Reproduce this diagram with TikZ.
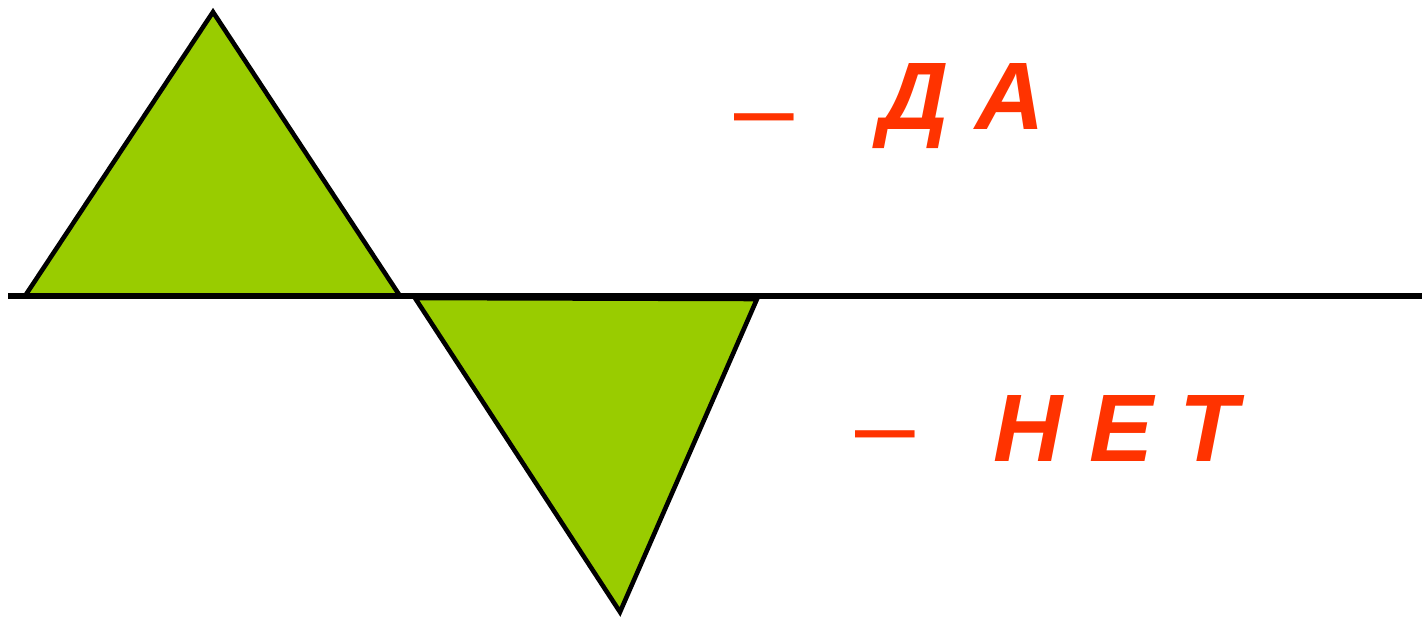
\documentclass[tikz,border=0pt]{standalone}
\usepackage{fontspec}
\setmainfont{Liberation Sans}
\usetikzlibrary{positioning}
\definecolor{leafgreen}{RGB}{153, 204, 0}
\definecolor{redorange}{RGB}{255, 51, 0}

\begin{document}
\begin{tikzpicture}[x=0.02cm, y=-0.02cm,
        tri/.style={draw=black, fill=leafgreen, line width=2.6pt, line join=miter},
        axis/.style={draw=black, line width=3.6pt},
        word/.style={text=redorange, font=\fontsize{54.6pt}{60pt}\selectfont\bfseries\itshape, inner sep=0pt, anchor=base west},
        dashmark/.style={text=redorange, font=\fontsize{61pt}{66pt}\selectfont, inner sep=0pt, anchor=base west}
      ]
        \useasboundingbox (0,0) rectangle (1422,622);
        % triangles above and below the line
        \draw[tri] (25,296) -- (213,12) -- (400,296) -- cycle;
        \draw[tri] (415,298) -- (757,299) -- (620,612) -- cycle;
        \draw[axis] (8,296) -- (1422,296);
        % labels
        \node[dashmark] (dashda) at (734,144) {–};
        \node[word] (da) at (879,129) {Д А};
        \node[dashmark] (dashnet) at (855,461) {–};
        \node[word] (net) at (993,461) {Н Е Т};
      \end{tikzpicture}
\end{document}
